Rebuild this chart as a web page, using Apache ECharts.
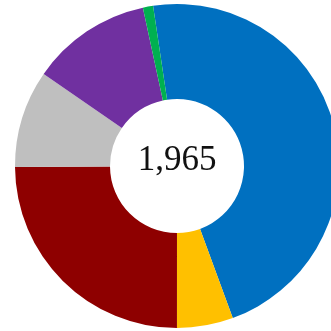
<!DOCTYPE html>
<html>
<head>
<meta charset="utf-8">
<script src="https://cdn.jsdelivr.net/npm/echarts@6/dist/echarts.min.js"></script>
<style>
  html, body { margin: 0; padding: 0; background: #fff; }
  #chart { width: 331px; height: 331px; }
</style>
</head>
<body>
<div id="chart"></div>
<script>
// Segments listed clockwise, starting just left of 12 o'clock
const categories = ['A', 'B', 'C', 'D', 'E', 'F'];
const values = [919, 110, 489, 191, 236, 20];
const colors = ['#0070C0', '#FFC000', '#8E0000', '#BFBFBF', '#7030A0', '#00B050'];

const total = values.reduce((s, v) => s + v, 0);
const totalLabel = total.toLocaleString('en-US');

const chart = echarts.init(document.getElementById('chart'), null, { renderer: 'canvas' });
chart.setOption({
  animation: false,
  backgroundColor: '#ffffff',
  series: [{
    type: 'pie',
    center: [177, 166],
    radius: [67, 162],
    startAngle: 98.5,
    clockwise: true,
    silent: true,
    label: { show: false },
    labelLine: { show: false },
    itemStyle: { borderWidth: 0 },
    data: categories.map((name, i) => ({
      name,
      value: values[i],
      itemStyle: { color: colors[i] }
    }))
  }],
  graphic: [{
    type: 'text',
    x: 177,
    y: 161,
    style: {
      text: totalLabel,
      font: '35px "Liberation Serif", "Times New Roman", serif',
      fill: '#111111',
      textAlign: 'center',
      textVerticalAlign: 'middle'
    }
  }]
});
</script>
</body>
</html>
